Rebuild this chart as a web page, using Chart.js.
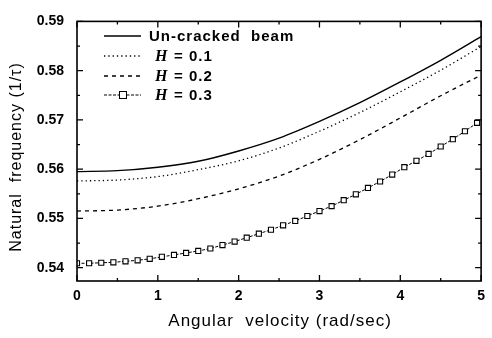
<!DOCTYPE html>
<html>
<head>
<meta charset="utf-8">
<script src="https://cdn.jsdelivr.net/npm/chart.js@4.4.1/dist/chart.umd.min.js"></script>
<style>
  html, body { margin: 0; padding: 0; background: #fff; }
  #chart { display: block; }
</style>
</head>
<body>
<canvas id="chart" width="492" height="338"></canvas>
<script>
// values
const velocityLine = [0, 0.5, 1, 1.5, 2, 2.5, 3, 3.5, 4, 4.5, 5];
const uncracked = [0.5595, 0.5597, 0.5604, 0.5616, 0.5637, 0.5663, 0.5697, 0.5735, 0.5777, 0.5821, 0.5869];
const crackH01 = [0.5576, 0.5578, 0.5585, 0.5599, 0.5617, 0.5643, 0.5677, 0.5715, 0.5757, 0.5801, 0.5849];
const crackH02 = [0.5515, 0.5517, 0.5525, 0.5540, 0.5560, 0.5586, 0.5620, 0.5660, 0.5704, 0.5749, 0.5791];

const velocityMarked = [0, 0.15, 0.3, 0.45, 0.6, 0.75, 0.9, 1.05, 1.2, 1.35, 1.5, 1.65, 1.8, 1.95,
  2.1, 2.25, 2.4, 2.55, 2.7, 2.85, 3, 3.15, 3.3, 3.45, 3.6, 3.75, 3.9, 4.05, 4.2, 4.35, 4.5, 4.65, 4.8, 4.95];
const crackH03 = [0.5409, 0.5409, 0.5410, 0.5411, 0.5413, 0.5415, 0.5418, 0.5422, 0.5426, 0.5430, 0.5434,
  0.5439, 0.5446, 0.5453, 0.5461, 0.5469, 0.5477, 0.5486, 0.5495, 0.5505, 0.5515, 0.5525, 0.5537, 0.5549,
  0.5562, 0.5575, 0.5589, 0.5604, 0.5617, 0.5631, 0.5646, 0.5661, 0.5677, 0.5694];

const xTicks = [0, 1, 2, 3, 4, 5];
const yTicks = [0.54, 0.55, 0.56, 0.57, 0.58, 0.59];
const legendText = ['Un-cracked  beam', '= 0.1', '= 0.2', '= 0.3'];
const xTitle = 'Angular  velocity (rad/sec)';
const yTitle = 'Natural  frequency (1/τ)';

const toPoints = (xs, ys) => xs.map((x, i) => ({ x: x, y: ys[i] }));

const SANS = '"Liberation Sans", Arial, sans-serif';

// frame round the plot, inward tick marks, axis titles
const framePlugin = {
  id: 'frame',
  afterDraw(chart) {
    const { ctx, chartArea: a, scales } = chart;
    ctx.save();
    ctx.strokeStyle = '#000';
    ctx.lineWidth = 1.6;
    ctx.strokeRect(a.left, a.top, a.right - a.left, a.bottom - a.top);
    ctx.lineWidth = 1.3;
    ctx.beginPath();
    for (let v = 0; v <= 5; v += 0.5) {
      const px = scales.x.getPixelForValue(v);
      const len = Number.isInteger(v) ? 6 : 3;
      ctx.moveTo(px, a.bottom); ctx.lineTo(px, a.bottom - len);
      ctx.moveTo(px, a.top); ctx.lineTo(px, a.top + len);
    }
    for (let k = 0; k <= 10; k++) {
      const v = 0.54 + k * 0.005;
      const py = scales.y.getPixelForValue(v);
      const len = k % 2 === 0 ? 6 : 3;
      ctx.moveTo(a.left, py); ctx.lineTo(a.left + len, py);
      ctx.moveTo(a.right, py); ctx.lineTo(a.right - len, py);
    }
    ctx.stroke();

    // titles (drawn here to get the wide letter spacing of the scan)
    ctx.fillStyle = '#000';
    ctx.textAlign = 'center';
    ctx.textBaseline = 'middle';
    ctx.letterSpacing = '1px';
    ctx.font = '17px ' + SANS;
    ctx.fillText(xTitle, (a.left + a.right) / 2 + 1, 321);
    ctx.translate(17, 157);
    ctx.rotate(-Math.PI / 2);
    ctx.font = '16px ' + SANS;
    ctx.fillText(yTitle, 0, 0);
    ctx.restore();
  }
};

// legend drawn inside the plot, top-left
const legendPlugin = {
  id: 'inlineLegend',
  afterDraw(chart) {
    const ctx = chart.ctx;
    const rows = [36, 56, 76, 95];
    chart.data.datasets.forEach((ds, i) => {
      const y = rows[i];
      ctx.save();
      ctx.strokeStyle = '#000';
      ctx.lineWidth = ds.borderWidth;
      ctx.setLineDash(ds.borderDash || []);
      ctx.beginPath();
      ctx.moveTo(104, y); ctx.lineTo(141, y);
      ctx.stroke();
      ctx.setLineDash([]);
      if (ds.pointRadius > 0) {
        ctx.fillStyle = '#fff';
        ctx.lineWidth = 1;
        ctx.fillRect(119.5, y - 3.5, 7, 7);
        ctx.strokeRect(119.5, y - 3.5, 7, 7);
      }
      ctx.fillStyle = '#000';
      ctx.textBaseline = 'middle';
      ctx.letterSpacing = '1px';
      if (i === 0) {
        ctx.font = 'bold 15px ' + SANS;
        ctx.fillText(legendText[i], 149, y + 1);
      } else {
        ctx.font = 'italic bold 16px "Liberation Serif", serif';
        ctx.fillText('H', 155, y + 1);
        ctx.font = 'bold 15px ' + SANS;
        ctx.fillText(legendText[i], 174, y + 1);
      }
      ctx.restore();
    });
  }
};

new Chart(document.getElementById('chart'), {
  type: 'line',
  data: {
    datasets: [
      {
        label: 'Un-cracked beam',
        data: toPoints(velocityLine, uncracked),
        borderColor: '#000', borderWidth: 1.4,
        pointRadius: 0, cubicInterpolationMode: 'monotone'
      },
      {
        label: 'H = 0.1',
        data: toPoints(velocityLine, crackH01),
        borderColor: '#000', borderWidth: 1.3, borderDash: [1.3, 3],
        pointRadius: 0, cubicInterpolationMode: 'monotone'
      },
      {
        label: 'H = 0.2',
        data: toPoints(velocityLine, crackH02),
        borderColor: '#000', borderWidth: 1.3, borderDash: [4, 4],
        pointRadius: 0, cubicInterpolationMode: 'monotone'
      },
      {
        label: 'H = 0.3',
        data: toPoints(velocityMarked, crackH03),
        borderColor: '#000', borderWidth: 1, borderDash: [3, 1.5],
        pointStyle: 'rect', pointRadius: 3.6, pointBorderWidth: 1.1,
        pointBackgroundColor: '#fff', pointBorderColor: '#000',
        tension: 0
      }
    ]
  },
  options: {
    responsive: false,
    animation: false,
    devicePixelRatio: 1,
    layout: { padding: { top: 13, right: 1, left: 0, bottom: 0 } },
    plugins: {
      legend: { display: false },
      tooltip: { enabled: false }
    },
    scales: {
      x: {
        type: 'linear',
        min: 0, max: 5,
        afterBuildTicks: (s) => { s.ticks = xTicks.map(v => ({ value: v })); },
        afterFit: (s) => { s.height = 57; },
        grid: { display: false, drawTicks: false },
        border: { display: false },
        ticks: { color: '#000', font: { family: SANS, size: 14, weight: 'bold' }, padding: 7, maxRotation: 0 }
      },
      y: {
        type: 'linear',
        min: 0.5373, max: 0.59,
        afterBuildTicks: (s) => { s.ticks = yTicks.map(v => ({ value: v })); },
        afterFit: (s) => { s.width = 77; },
        grid: { display: false, drawTicks: false },
        border: { display: false },
        ticks: {
          color: '#000', font: { family: SANS, size: 14, weight: 'bold' }, padding: 13,
          callback: (v) => v.toFixed(2)
        }
      }
    }
  },
  plugins: [framePlugin, legendPlugin]
});
</script>
</body>
</html>
